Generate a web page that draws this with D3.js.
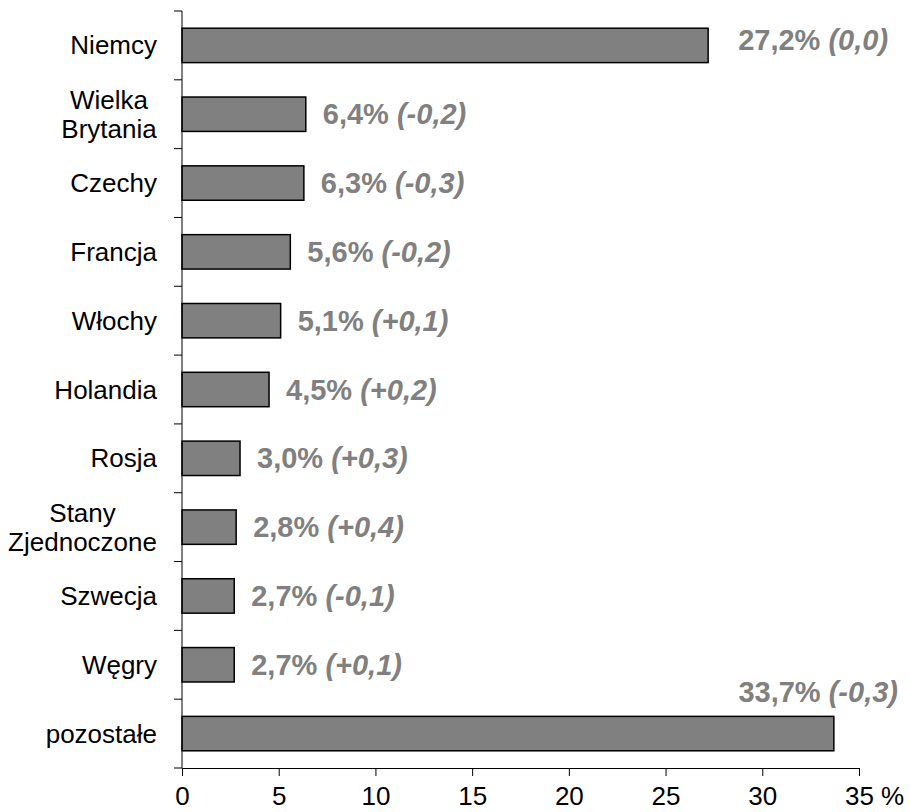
<!DOCTYPE html>
<html>
<head>
<meta charset="utf-8">
<script src="https://cdn.jsdelivr.net/npm/d3@7"></script>
<style>
  html, body { margin: 0; padding: 0; background: #fff; }
  text { font-family: Arial, "Liberation Sans", sans-serif; }
</style>
</head>
<body>
<svg id="chart" width="910" height="812"></svg>
<script>
// Udział krajów w eksporcie (%), zmiana w p.p. w nawiasie
const countries = ["Niemcy", "Wielka\nBrytania", "Czechy", "Francja", "Włochy", "Holandia", "Rosja", "Stany\nZjednoczone", "Szwecja", "Węgry", "pozostałe"];
const shares = [27.2, 6.4, 6.3, 5.6, 5.1, 4.5, 3.0, 2.8, 2.7, 2.7, 33.7];
const changes = ["0,0", "-0,2", "-0,3", "-0,2", "+0,1", "+0,2", "+0,3", "+0,4", "-0,1", "+0,1", "-0,3"];
const xTicks = [0, 5, 10, 15, 20, 25, 30, 35];

const svg = d3.select("#chart");
const plotLeft = 182, plotRight = 859, plotTop = 11, plotBottom = 768;
const labelFont = 26, valueFont = 29;

const x = d3.scaleLinear().domain([0, 35]).range([plotLeft, plotRight]);
const y = d3.scaleBand().domain(countries).range([plotTop, plotBottom]).paddingInner(0.5).paddingOuter(0.25);

const fmt = v => v.toFixed(1).replace(".", ",");

// bars
svg.append("g").selectAll("rect")
  .data(countries)
  .join("rect")
  .attr("x", x(0))
  .attr("y", d => y(d))
  .attr("width", (d, i) => x(shares[i]) - x(0))
  .attr("height", y.bandwidth())
  .attr("fill", "#808080")
  .attr("stroke", "#000")
  .attr("stroke-width", 1.5);

// y axis with ticks at band boundaries
const yAxis = svg.append("g").attr("stroke", "#000").attr("stroke-width", 1);
yAxis.append("line").attr("x1", plotLeft).attr("x2", plotLeft).attr("y1", plotTop).attr("y2", plotBottom);
const step = (plotBottom - plotTop) / countries.length;
d3.range(countries.length + 1).forEach(i => {
  yAxis.append("line")
    .attr("x1", plotLeft - 8).attr("x2", plotLeft)
    .attr("y1", plotTop + i * step).attr("y2", plotTop + i * step);
});

// category labels (multi-line labels centered within a right-aligned block)
const labelRight = 157;
countries.forEach(c => {
  const lines = c.split("\n");
  const cy = y(c) + y.bandwidth() / 2;
  const lh = 29;
  const t = svg.append("text")
    .attr("font-size", labelFont)
    .attr("fill", "#000")
    .attr("dominant-baseline", "central");
  lines.forEach((ln, k) => {
    t.append("tspan")
      .attr("x", 0)
      .attr("y", cy + (k - (lines.length - 1) / 2) * lh)
      .text(ln);
  });
  if (lines.length === 1) {
    t.attr("text-anchor", "end").selectAll("tspan").attr("x", labelRight);
  } else {
    const w = t.node().getBBox().width;
    t.attr("text-anchor", "middle").selectAll("tspan").attr("x", labelRight - w / 2);
  }
});

// x axis
const xAxis = svg.append("g")
  .attr("transform", `translate(0,${plotBottom})`)
  .call(d3.axisBottom(x).tickValues(xTicks).tickSize(8).tickPadding(11).tickFormat(d => d));
xAxis.select(".domain").attr("stroke", "#000").attr("stroke-width", 1);
xAxis.selectAll(".tick line").attr("stroke", "#000");
xAxis.selectAll(".tick text")
  .attr("font-size", labelFont)
  .attr("font-family", "Arial, 'Liberation Sans', sans-serif")
  .attr("fill", "#000");
svg.append("text")
  .attr("x", 881).attr("y", 805)
  .attr("font-size", labelFont)
  .attr("fill", "#000")
  .text("%");

// value labels
countries.forEach((c, i) => {
  const last = i === countries.length - 1;
  const first = i === 0;
  const t = svg.append("text")
    .attr("font-size", valueFont)
    .attr("font-weight", "bold")
    .attr("fill", "#808080")
    .attr("dominant-baseline", "central");
  t.append("tspan").text(fmt(shares[i]) + "% ");
  t.append("tspan").attr("font-style", "italic").text("(" + changes[i] + ")");
  if (first) {
    t.attr("x", x(shares[i]) + 30).attr("y", y(c) + y.bandwidth() / 2 - 5);
  } else if (last) {
    t.attr("text-anchor", "end").attr("x", 898).attr("y", y(c) - 24);
  } else {
    t.attr("x", x(shares[i]) + 17).attr("y", y(c) + y.bandwidth() / 2);
  }
});
</script>
</body>
</html>
